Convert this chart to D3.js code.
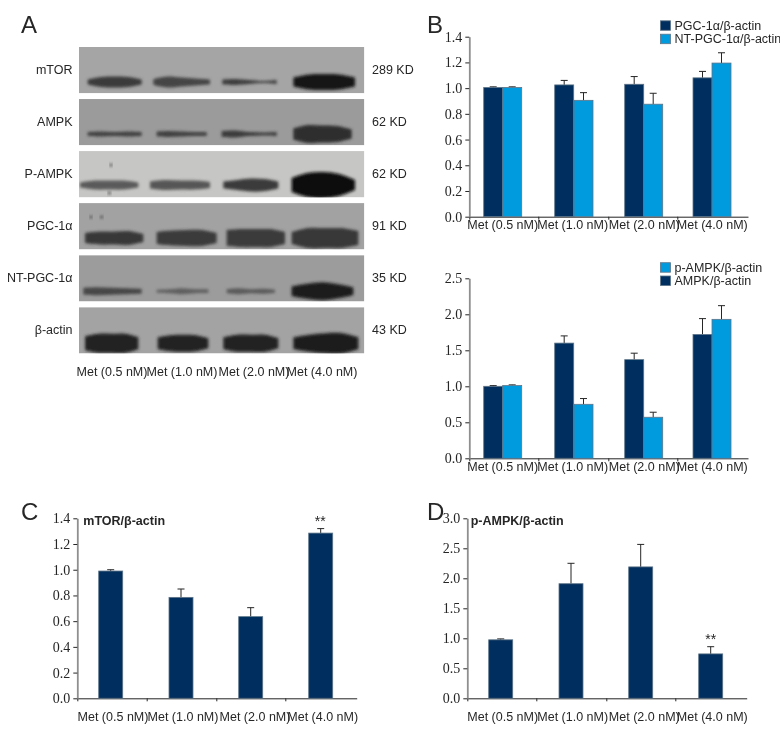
<!DOCTYPE html>
<html><head><meta charset="utf-8">
<script src="https://cdn.jsdelivr.net/npm/d3@7/dist/d3.min.js"></script>
<style>
html,body{margin:0;padding:0;background:#fff}
svg{display:block}
text{font-family:"Liberation Sans Narrow","Liberation Sans",sans-serif;fill:#262626}
</style></head><body>
<svg id="fig" width="780" height="744"></svg>
<script>
// ---------- data ----------
const categories = ["Met (0.5 nM)","Met (1.0 nM)","Met (2.0 nM)","Met (4.0 nM)"];

const pgcValues   = [1.005,1.025,1.03,1.08];
const pgcTops     = [1.01,1.06,1.09,1.13];
const ntPgcValues = [1.005,0.905,0.875,1.195];
const ntPgcTops   = [1.01,0.965,0.96,1.275];

const ampkValues  = [1.0,1.6,1.37,1.72];
const ampkTops    = [1.01,1.70,1.46,1.94];
const pAmpkValues = [1.01,0.75,0.57,1.93];
const pAmpkTops   = [1.02,0.83,0.64,2.12];

const mtorValues  = [0.99,0.785,0.635,1.285];
const mtorTops    = [1.0,0.85,0.705,1.32];
const pRatioValues= [0.975,1.91,2.19,0.74];
const pRatioTops  = [0.99,2.25,2.565,0.86];

const ticksB  = [0,0.2,0.4,0.6,0.8,1.0,1.2,1.4];
const ticksB2 = [0,0.5,1.0,1.5,2.0,2.5];
const ticksD  = [0,0.5,1.0,1.5,2.0,2.5,3.0];

const blotRows  = ["mTOR","AMPK","P-AMPK","PGC-1α","NT-PGC-1α","β-actin"];
const blotSizes = ["289 KD","62 KD","62 KD","91 KD","35 KD","43 KD"];
const blotShades= ["#a5a5a5","#9b9b9b","#c6c6c4","#a2a2a2","#9c9c9c","#a3a3a3"];
// each band: lane start, lane end (gel units), thickness profile along the lane, darkness (grey level)
const bandsMtor = [[38,200,[5,10,11,10,5],"#3b3b3b"],[235,405,[6,11,9,7,5],"#444"],[442,605,[5,6,4,2,4],"#3c3c3c"],[655,840,[9,15,16,15,9],"#171717"]];
const bandsAmpk = [[38,200,[4,5,4,5,4],"#414141"],[245,395,[5,6,5,4,4],"#404040"],[440,605,[6,7,4,3,4],"#3a3a3a"],[655,830,[11,18,17,16,9],"#2d2d2d"]];
const bandsPAmpk= [[15,190,[5,9,9,9,5],"#5a5a5a"],[225,405,[7,10,9,9,6],"#565656"],[445,610,[7,10,13,12,7],"#3a3a3a"],[650,840,[14,24,26,22,10],"#0c0c0c"]];
const bandsPgc  = [[30,205,[10,13,13,14,8],"#383838"],[245,425,[12,15,16,16,10],"#3a3a3a"],[455,630,[16,18,18,18,12],"#3a3a3a"],[650,850,[12,20,20,20,14],"#383838"]];
const bandsNt   = [[25,200,[7,8,7,6,5],"#474747"],[245,400,[3,4,6,4,4],"#5e5e5e"],[455,600,[4,6,4,5,3],"#5a5a5a"],[650,835,[10,15,18,14,8],"#1d1d1d"]];
const bandsActin= [[30,190,[14,19,19,19,12],"#202020"],[248,400,[12,16,17,16,10],"#222"],[445,610,[12,17,17,17,10],"#222"],[655,850,[12,17,20,20,12],"#1c1c1c"]];
const bandRows  = [bandsMtor,bandsAmpk,bandsPAmpk,bandsPgc,bandsNt,bandsActin];
const bandCentre= [35,35,34,35,36,36];
const gelSpots  = [[2,108,14],[2,103,42],[3,48,14],[3,80,14]];

// ---------- helpers ----------
const DARK="#022f5e", LIGHT="#009ade", EDGE="#5d7488", AXIS="#8f8f8f", INK="#262626";
const svg=d3.select("#fig");
const defs=svg.append("defs");
defs.append("filter").attr("id","soft").attr("x","-10%").attr("y","-60%").attr("width","120%").attr("height","220%")
  .append("feGaussianBlur").attr("stdDeviation",1.5);
defs.append("filter").attr("id","fine").attr("x","-2%").attr("y","-2%").attr("width","104%").attr("height","104%")
  .append("feGaussianBlur").attr("stdDeviation",0.35);
const root=svg.append("g").attr("filter","url(#fine)");

function letter(t,x,y){root.append("text").attr("x",x).attr("y",y).attr("font-size",24).text(t);}
letter("A",21,33);letter("B",427,33);letter("C",21,520);letter("D",427,520);

// ---------- panel A: blot ----------
const rowY=d3.scaleBand(d3.range(6),[47,353.5]).paddingInner(0.11);
const gelX=d3.scaleLinear([0,885],[75,370]);
const gelY=d3.scaleLinear([0,141],[0,47]);
const gA=root.append("g");
blotRows.forEach((name,i)=>{
  const y0=rowY(i),h=rowY.bandwidth();
  defs.append("clipPath").attr("id","row"+i).append("rect").attr("x",gelX(12)).attr("y",y0).attr("width",gelX(868)-gelX(12)).attr("height",h);
  const g=gA.append("g").attr("clip-path",`url(#row${i})`);
  g.append("rect").attr("x",gelX(12)).attr("y",y0).attr("width",gelX(868)-gelX(12)).attr("height",h).attr("fill",blotShades[i]);
  const cy=y0+gelY(bandCentre[i]*3);
  bandRows[i].forEach(([a,b,prof,col])=>{
    const t=d3.scaleLinear([0,prof.length-1],[gelX(a),gelX(b)]);
    const area=d3.area().x((d,k)=>t(k)).y0(d=>cy-gelY(d*1.5)).y1(d=>cy+gelY(d*1.5)).curve(d3.curveCatmullRom);
    g.append("path").attr("d",area(prof)).attr("fill",col).attr("filter","url(#soft)");
  });
  gelSpots.filter(s=>s[0]===i).forEach(s=>{
    g.append("circle").attr("cx",gelX(s[1])).attr("cy",y0+gelY(s[2]*3)).attr("r",1.5).attr("fill","#444").attr("filter","url(#soft)");
  });
  gA.append("text").attr("x",72.5).attr("y",y0+h/2+4).attr("text-anchor","end").attr("font-size",12.5).text(name);
  gA.append("text").attr("x",372).attr("y",y0+h/2+4).attr("font-size",12.5).text(blotSizes[i]);
});
const blotLabels=d3.scaleOrdinal(categories,[112,182,254,322]);
categories.forEach(c=>gA.append("text").attr("x",blotLabels(c)).attr("y",376).attr("text-anchor","middle").attr("font-size",12.5).text(c));

// ---------- bar charts ----------
function chart(o){
  const g=root.append("g");
  const y=d3.scaleLinear(o.domain,[o.y0,o.yTop]);
  const labelX=d3.scaleOrdinal(categories,o.labelCentres);
  // separators
  const sep=d3.scaleLinear([o.xStart,o.xEnd],[o.xStart,o.xEnd]);
  const ax=g.append("g").attr("transform",`translate(0,${o.y0})`)
    .call(d3.axisBottom(sep).tickValues(o.seps).tickSize(3).tickSizeOuter(0).tickFormat(""));
  ax.selectAll("path,line").attr("stroke",INK).attr("stroke-width",1);
  // bars
  o.series.forEach(s=>{
    const x=d3.scaleOrdinal(categories,s.lefts);
    const sg=g.append("g");
    const rows=categories.map((c,i)=>({c,v:s.values[i],top:s.tops[i]}));
    sg.selectAll("line.err").data(rows).join("line").attr("class","err")
      .attr("x1",d=>x(d.c)+o.bw/2).attr("x2",d=>x(d.c)+o.bw/2)
      .attr("y1",d=>y(d.v)).attr("y2",d=>y(d.top)).attr("stroke",INK).attr("stroke-width",1);
    sg.selectAll("line.cap").data(rows).join("line").attr("class","cap")
      .attr("x1",d=>x(d.c)+o.bw/2-3.5).attr("x2",d=>x(d.c)+o.bw/2+3.5)
      .attr("y1",d=>y(d.top)).attr("y2",d=>y(d.top)).attr("stroke",INK).attr("stroke-width",1);
    sg.selectAll("rect").data(rows).join("rect")
      .attr("x",d=>x(d.c)).attr("y",d=>y(d.v)).attr("width",o.bw).attr("height",d=>y(0)-y(d.v))
      .attr("fill",s.color).attr("stroke",EDGE).attr("stroke-width",0.8);
  });
  // y axis
  const ay=g.append("g").attr("transform",`translate(${o.xStart},0)`)
    .call(d3.axisLeft(y).tickValues(o.ticks).tickSize(4).tickSizeOuter(0).tickPadding(3).tickFormat(d3.format(".1f")));
  ay.select("path").attr("stroke",AXIS).attr("stroke-width",1.8);
  ay.selectAll("line").attr("stroke",INK);
  ay.selectAll("text").attr("font-size",14).attr("fill",INK).style("font-family",'"Liberation Sans Narrow"');
  // category labels
  categories.forEach(c=>g.append("text").attr("x",labelX(c)).attr("y",o.labelY).attr("text-anchor","middle").attr("font-size",12.5).text(c));
  if(o.title) g.append("text").attr("x",o.titleX).attr("y",o.titleY).attr("font-size",12.5).attr("font-weight",700).text(o.title);
  if(o.star) g.append("text").attr("x",o.star[0]).attr("y",o.star[1]).attr("text-anchor","middle").attr("font-size",14).text("**");
  if(o.legend) o.legend.forEach((l,i)=>{
    g.append("rect").attr("x",l.x).attr("y",l.y).attr("width",10).attr("height",9.5).attr("fill",l.color).attr("stroke",EDGE).attr("stroke-width",0.8);
    g.append("text").attr("x",l.x+14).attr("y",l.y+9).attr("font-size",12.5).text(l.text);
  });
}

chart({domain:[0,1.4],y0:216.7,yTop:36.7,xStart:469.3,xEnd:748,seps:[469.3,538.3,608.3,677.3],ticks:ticksB,bw:19,
  labelCentres:[502.7,572.7,644.3,712.3],labelY:229,
  series:[{values:pgcValues,tops:pgcTops,color:DARK,lefts:[483.7,554.7,624.7,693]},
          {values:ntPgcValues,tops:ntPgcTops,color:LIGHT,lefts:[502.7,574,643.7,712]}],
  legend:[{x:660.5,y:20.8,color:DARK,text:"PGC-1α/β-actin"},{x:660.5,y:34.2,color:LIGHT,text:"NT-PGC-1α/β-actin"}]});

chart({domain:[0,2.5],y0:458.3,yTop:278.3,xStart:469.3,xEnd:748,seps:[469.3,538.3,608.3,677.3],ticks:ticksB2,bw:19,
  labelCentres:[502.7,572.7,644.3,712.3],labelY:471,
  series:[{values:ampkValues,tops:ampkTops,color:DARK,lefts:[483.7,554.7,624.7,693]},
          {values:pAmpkValues,tops:pAmpkTops,color:LIGHT,lefts:[502.7,574,643.7,712]}],
  legend:[{x:660.5,y:262.7,color:LIGHT,text:"p-AMPK/β-actin"},{x:660.5,y:276,color:DARK,text:"AMPK/β-actin"}]});

chart({domain:[0,1.4],y0:698.3,yTop:518.3,xStart:77.3,xEnd:356.7,seps:[77.3,146.7,216.3,285.3],ticks:ticksB,bw:24,
  labelCentres:[113,183,255,322.7],labelY:721,
  series:[{values:mtorValues,tops:mtorTops,color:DARK,lefts:[98.7,169,238.7,308.7]}],
  title:"mTOR/β-actin",titleX:83.3,titleY:525,star:[320.3,526]});

chart({domain:[0,3],y0:698.3,yTop:518.3,xStart:467.3,xEnd:746.7,seps:[467.3,536.3,606.3,675.3],ticks:ticksD,bw:24,
  labelCentres:[502.7,572.7,644.3,712.3],labelY:721,
  series:[{values:pRatioValues,tops:pRatioTops,color:DARK,lefts:[488.7,559,628.7,698.7]}],
  title:"p-AMPK/β-actin",titleX:470.7,titleY:525,star:[710.7,644]});
</script>
</body></html>
